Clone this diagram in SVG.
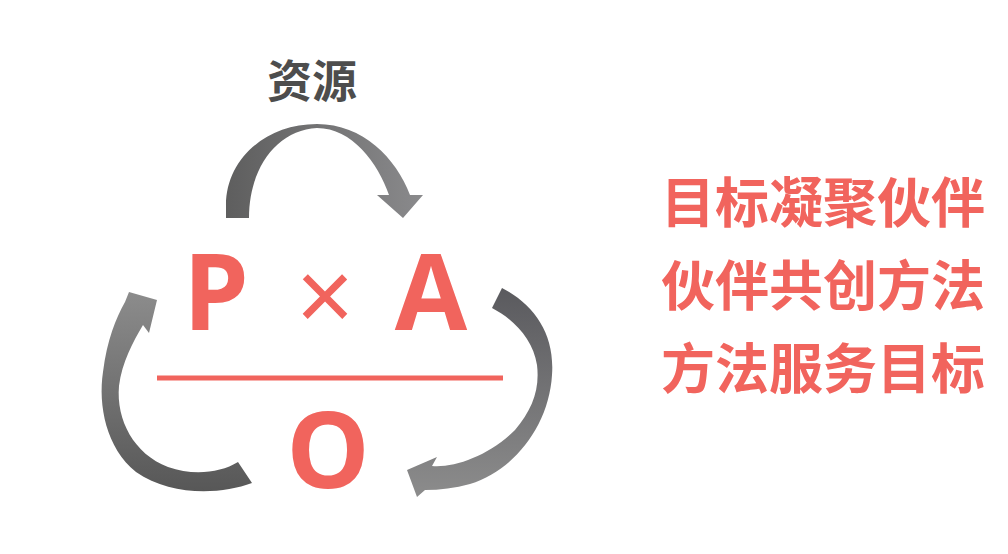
<svg xmlns="http://www.w3.org/2000/svg" width="1008" height="554" viewBox="0 0 1008 554">
<style>
.big{font-family:"Open Sans","Noto Sans",sans-serif;font-weight:700;font-size:105px;fill:#f1645d;text-anchor:middle}
.cn{font-family:"Noto Sans CJK SC","Noto Sans",sans-serif;font-weight:700;font-size:54px;fill:#f1645d}
.res{font-family:"Noto Sans CJK SC","Noto Sans",sans-serif;font-weight:700;font-size:45px;fill:#4d4d4d;text-anchor:middle}
</style>
<defs>
<linearGradient id="gTop" x1="226" y1="0" x2="423" y2="0" gradientUnits="userSpaceOnUse">
<stop offset="0" stop-color="#5e5e5e"/><stop offset="1" stop-color="#8a8a8c"/>
</linearGradient>
<linearGradient id="gLeft" x1="0" y1="292" x2="0" y2="492" gradientUnits="userSpaceOnUse">
<stop offset="0" stop-color="#8c8c8c"/><stop offset="1" stop-color="#575757"/>
</linearGradient>
<linearGradient id="gRight" x1="0" y1="288" x2="0" y2="497" gradientUnits="userSpaceOnUse">
<stop offset="0" stop-color="#5a5a5e"/><stop offset="1" stop-color="#8c8c8c"/>
</linearGradient>
</defs>
<rect width="1008" height="554" fill="#ffffff"/>
<g id="connectors">
<path id="arrow-top" fill="url(#gTop)" d="M226,218 L226,205 C226,160 265,124 317,124 C363,124 396,158 410,195 L423,195 L403,218 L377,195 L389,195 C378,163 352,128 317,128 C277,130 249,168 249,218 Z"/>
<path id="arrow-left" fill="url(#gLeft)" d="M252,483 C220,495 170,496 136,472 C106,448 98,405 103,372 C107,340 116,318 125,302 L129,292 L157,300 L149,333 L143,325 C133,342 122,362 119,386 C116,420 134,454 168,467 C193,476 220,473 238,462 Z"/>
<path id="arrow-right" fill="url(#gRight)" d="M502,288 C535,305 555,335 552,375 C549,425 515,470 470,484 C455,488 440,490 425,490 L417,497 L407,470 L437,457 L432,466 C455,468 490,455 515,430 C532,410 540,390 537,365 C533,340 515,320 492,308 Z"/>
</g>
<g id="node-resource"><text class="res" x="312" y="98">资源</text></g>
<g id="node-P"><text class="big" x="216" y="330">P</text></g>
<g id="node-times"><text x="325" y="330" font-family="Liberation Sans,sans-serif" font-size="100" fill="#f1645d" text-anchor="middle">×</text></g>
<g id="node-A"><text class="big" x="431" y="330">A</text></g>
<g id="node-line"><rect x="157" y="375.5" width="346" height="5" fill="#f1645d"/></g>
<g id="node-O"><text class="big" x="328" y="488">O</text></g>
<g id="node-slogan">
<text class="cn" x="661" y="223">目标凝聚伙伴</text>
<text class="cn" x="661" y="306">伙伴共创方法</text>
<text class="cn" x="661" y="389">方法服务目标</text>
</g>
</svg>
